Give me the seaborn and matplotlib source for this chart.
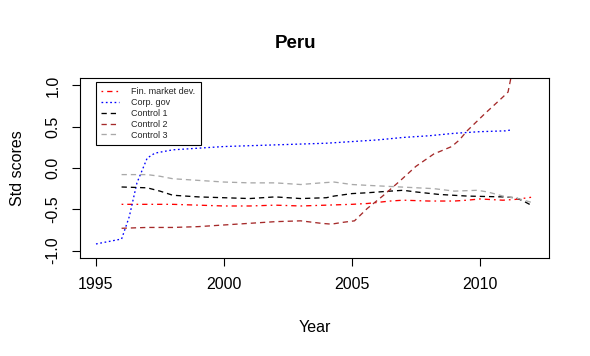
import matplotlib
matplotlib.use("Agg")
import matplotlib.pyplot as plt
import seaborn as sns
import pandas as pd

# ---- data ----
fin_years = [1996, 1997, 1998, 1999, 2000, 2001, 2002, 2003, 2004, 2005, 2005.6, 2006.5, 2007, 2008, 2009, 2009.5, 2010, 2010.9, 2011.4, 2012]
fin_vals = [-0.44, -0.44, -0.44, -0.45, -0.46, -0.46, -0.45, -0.46, -0.45, -0.44, -0.43, -0.40, -0.39, -0.40, -0.40, -0.39, -0.375, -0.39, -0.38, -0.355]

gov_years = [1995, 1995.5, 1996, 1996.3, 1996.6, 1997, 1997.3, 1998, 1999, 2000, 2001, 2002, 2003, 2004, 2005, 2006, 2007, 2008, 2009, 2010, 2011, 2011.2]
gov_vals = [-0.92, -0.89, -0.86, -0.59, -0.18, 0.12, 0.18, 0.22, 0.24, 0.26, 0.27, 0.28, 0.29, 0.30, 0.32, 0.34, 0.37, 0.39, 0.42, 0.44, 0.45, 0.46]

c1_years = [1996, 1997, 1997.5, 1998, 1999, 2000, 2001, 2002, 2003, 2004, 2004.3, 2005, 2005.6, 2006.5, 2007, 2007.5, 2008.4, 2009.5, 2010.9, 2011.4, 2011.7, 2012]
c1_vals = [-0.23, -0.24, -0.28, -0.33, -0.35, -0.36, -0.37, -0.35, -0.37, -0.36, -0.34, -0.31, -0.30, -0.28, -0.27, -0.29, -0.32, -0.34, -0.35, -0.36, -0.40, -0.45]

c2_years = [1996, 1997, 1998, 1999, 2000, 2001, 2002, 2003, 2003.8, 2004.2, 2004.6, 2005.1, 2005.6, 2006.2, 2006.9, 2007.5, 2008.2, 2008.9, 2009.2, 2009.5, 2010.2, 2010.9, 2011.1, 2011.25]
c2_vals = [-0.73, -0.72, -0.72, -0.71, -0.69, -0.67, -0.65, -0.64, -0.67, -0.68, -0.66, -0.64, -0.49, -0.34, -0.15, 0.02, 0.17, 0.26, 0.34, 0.45, 0.66, 0.86, 0.92, 1.15]

c3_years = [1996, 1997, 1997.5, 1998, 1999, 2000, 2001, 2002, 2003, 2003.8, 2004.3, 2005, 2005.6, 2006.9, 2008.2, 2009, 2009.9, 2010.3, 2010.9, 2011.5, 2012]
c3_vals = [-0.08, -0.08, -0.10, -0.13, -0.15, -0.17, -0.18, -0.18, -0.20, -0.18, -0.17, -0.20, -0.21, -0.23, -0.25, -0.28, -0.27, -0.29, -0.34, -0.37, -0.415]

labels = ["Fin. market dev.", "Corp. gov", "Control 1", "Control 2", "Control 3"]
x_ticks = [1995, 2000, 2005, 2010]
y_ticks = [-1.0, -0.5, 0.0, 0.5, 1.0]
y_ticklabels = ["-1.0", "-0.5", "0.0", "0.5", "1.0"]

# ---- style ----
sns.set_theme(style="white")
plt.rcParams["font.family"] = ["Liberation Sans", "DejaVu Sans"]

fig = plt.figure(figsize=(5.9, 3.56), dpi=100)
ax = fig.add_axes([80 / 590, 1 - 258 / 356, 469 / 590, 180 / 356])

series = [
    (fin_years, fin_vals, "#ff0000", (0, (1.3, 3, 4, 3))),
    (gov_years, gov_vals, "#0000ff", (0, (1.3, 2))),
    (c1_years, c1_vals, "#000000", (0, (4, 3))),
    (c2_years, c2_vals, "#a52a2a", (0, (4, 3))),
    (c3_years, c3_vals, "#a9a9a9", (0, (4, 3))),
]
for (xs, ys, col, ls), lab in zip(series, labels):
    df = pd.DataFrame({"Year": xs, "val": ys})
    sns.lineplot(data=df, x="Year", y="val", ax=ax, color=col, linestyle=ls,
                 linewidth=0.95, label=lab, sort=True, estimator=None)

ax.set_xlim(1994.375, 2012.7)
ax.set_ylim(-1.09, 1.09)
ax.set_xticks(x_ticks)
ax.set_xticklabels([str(t) for t in x_ticks])
ax.set_yticks(y_ticks)
ax.set_yticklabels(y_ticklabels, rotation=90, va="center")

for sp in ax.spines.values():
    sp.set_visible(True)
    sp.set_color("black")
    sp.set_linewidth(0.8)

ax.tick_params(axis="both", which="major", direction="out", length=6, width=0.8,
               color="black", labelsize=11.5, labelcolor="black", bottom=True, left=True)
ax.tick_params(axis="x", pad=8)
ax.tick_params(axis="y", pad=8)

ax.set_xlabel("Year", fontsize=11.5, labelpad=20, color="black")
ax.set_ylabel("Std scores", fontsize=11.5, labelpad=15, color="black")
fig.text(0.5, 1 - 43 / 356, "Peru", ha="center", va="center", fontsize=13.5,
         fontweight="bold", color="black")

leg = ax.legend(loc="upper left", bbox_to_anchor=(16 / 469, 176 / 180), fontsize=6.5,
                frameon=True, fancybox=False, edgecolor="black", framealpha=1,
                handlelength=2.0, handletextpad=1.3, labelspacing=0.2,
                borderpad=0.6, borderaxespad=0)
leg.get_frame().set_linewidth(0.8)

fig.savefig("out.png", dpi=100)
